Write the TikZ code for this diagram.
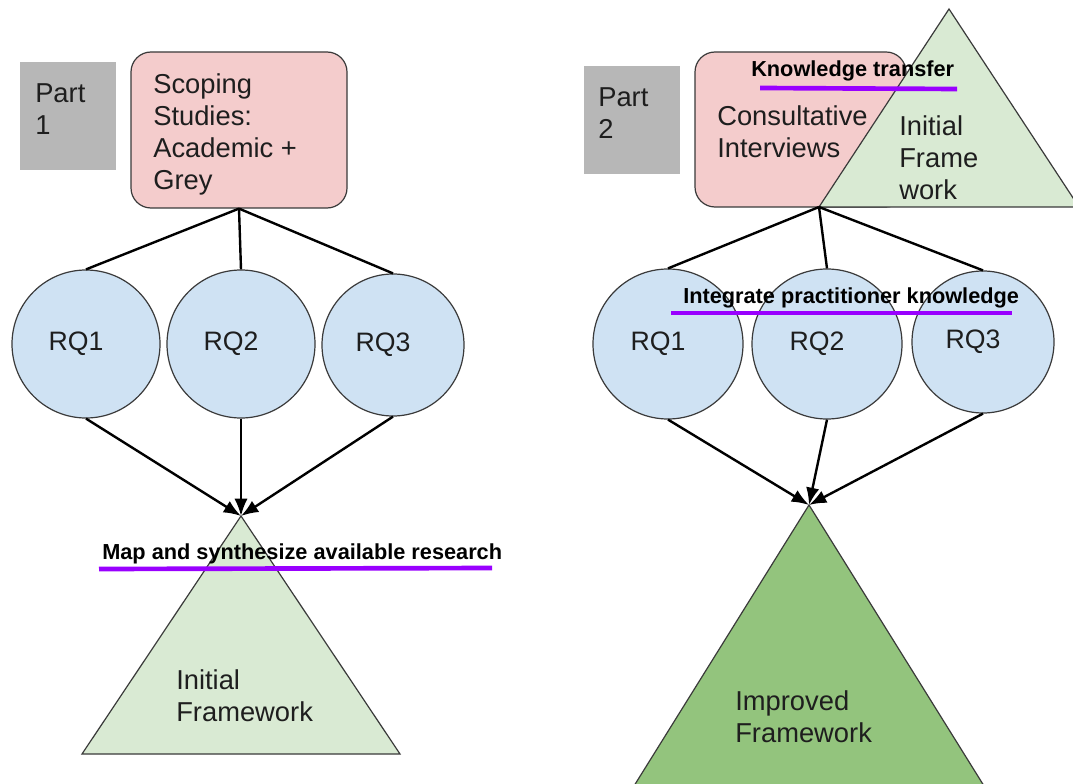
\documentclass[tikz,border=0pt]{standalone}
\usepackage{fontspec}
\setmainfont{Liberation Sans}
\usetikzlibrary{arrows.meta}

\definecolor{pinkfill}{HTML}{F4CCCC}
\definecolor{palegreen}{HTML}{D9EAD3}
\definecolor{bluefill}{HTML}{CFE2F3}
\definecolor{deepgreen}{HTML}{93C47D}
\definecolor{partgray}{HTML}{B7B7B7}
\definecolor{outline}{HTML}{3A3A3A}
\definecolor{marker}{HTML}{9900FF}
\definecolor{ink}{HTML}{1E1E1E}

\tikzset{
  shapeline/.style={draw=outline, line width=0.9pt},
  partbox/.style={fill=partgray, minimum width=72pt, minimum height=81pt, inner sep=0pt},
  sourcebox/.style={shapeline, fill=pinkfill, rounded corners=15pt, inner sep=0pt},
  % the question labels sit a little left of each circle's centre
  rqcircle/.style={shapeline, fill=bluefill, circle, inner sep=0pt, text=ink,
                   text width=56pt, align=left,
                   font=\fontsize{20}{24}\selectfont},
  bodytext/.style={anchor=north west, align=left, inner sep=0pt, text=ink,
                   font=\fontsize{20.5}{24}\selectfont},
  steplabel/.style={anchor=base west, inner sep=0pt, text=black,
                    font=\fontsize{16.3}{19}\selectfont\bfseries},
  underline/.style={draw=marker, line width=3.5pt},
  link/.style={draw=black, line width=1.8pt},
  flow/.style={link, -{Latex[length=13pt, width=10pt]}},
}

\begin{document}
\begin{tikzpicture}[x=0.75pt, y=-0.75pt]
  \clip (0,0) rectangle (1073,784);
  \fill[white] (0,0) rectangle (1073,784);

  % ---------------- Part 1 ----------------
  \node[partbox] (p1) at (68,116) {};
  \node[bodytext] (p1t) at (35,83) {Part\\1};

  \node[sourcebox, minimum width=162pt, minimum height=117pt] (scope) at (239,130) {};
  \node[bodytext] (scopet) at (153,73) {Scoping\\Studies:\\Academic +\\Grey};

  \node[rqcircle, minimum size=111pt] (a1) at (86,344) {RQ1};
  \node[rqcircle, minimum size=111pt] (a2) at (241,344) {RQ2};
  \node[rqcircle, minimum size=106.5pt] (a3) at (393,345) {RQ3};

  \path[link] (scope.south) -- (a1.north);
  \path[link] (scope.south) -- (a2.north);
  \path[link] (scope.south) -- (a3.north);

  % initial framework pyramid
  \coordinate (apexA) at (241,516);
  \draw[shapeline, fill=palegreen] (apexA) -- (82,754) -- (400,754) -- cycle;
  \node[bodytext] (initA) at (176,669) {Initial\\Framework};

  \path[flow] (a1.south) -- (apexA);
  \path[flow] (a2.south) -- (apexA);
  \path[flow] (a3.south) -- (apexA);

  \node[steplabel] (mapl) at (102,559) {Map and synthesize available research};
  \draw[underline] (99,569) -- (492,568);

  % ---------------- Part 2 ----------------
  \node[partbox] (p2) at (632,120) {};
  \node[bodytext] (p2t) at (598,87) {Part\\2};

  \node[sourcebox, minimum width=158.25pt, minimum height=116.25pt] (consult) at (800.5,129.5) {};
  \coordinate (apexB) at (949,9);
  \coordinate (hub) at (819,207);
  \draw[shapeline, fill=palegreen] (apexB) -- (hub) -- (1079,207) -- cycle;
  \node[bodytext] (consultt) at (717,105) {Consultative\\Interviews};
  \node[bodytext] (initB) at (899,115) {Initial\\Frame\\work};

  \node[steplabel] (ktl) at (751,77) {Knowledge transfer};
  \draw[underline] (760,88) -- (957,89);

  \node[rqcircle, minimum size=112.5pt] (b1) at (668,344) {RQ1};
  \node[rqcircle, minimum size=112.5pt] (b2) at (827,344) {RQ2};
  \node[rqcircle, minimum size=106.5pt] (b3) at (983,342) {RQ3};

  \path[link] (hub) -- (b1.north);
  \path[link] (hub) -- (b2.north);
  \path[link] (hub) -- (b3.north);

  % improved framework pyramid
  \coordinate (apexC) at (809,505);
  \draw[shapeline, fill=deepgreen] (apexC) -- (619,810) -- (999,810) -- cycle;
  \node[bodytext] (improved) at (735,690) {Improved\\Framework};

  \path[flow] (b1.south) -- (apexC);
  \path[flow] (b2.south) -- (apexC);
  \path[flow] (b3.south) -- (apexC);

  \node[steplabel] (ipk) at (683,303) {Integrate practitioner knowledge};
  \draw[underline] (671,313) -- (1012,313);
\end{tikzpicture}
\end{document}
